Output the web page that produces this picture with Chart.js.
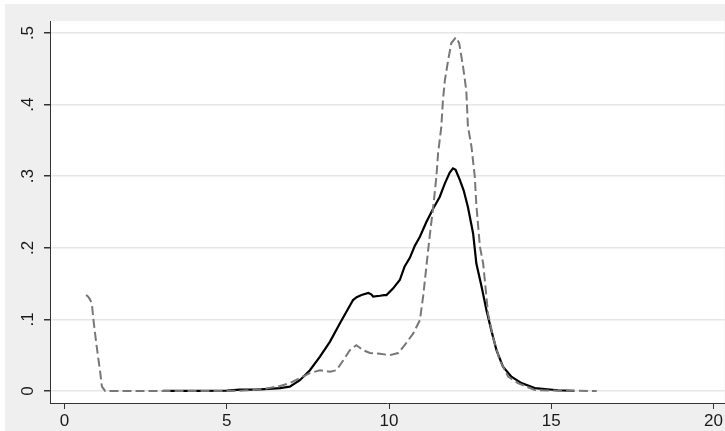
<!DOCTYPE html>
<html>
<head>
<meta charset="utf-8">
<script src="https://cdn.jsdelivr.net/npm/chart.js@4.4.1/dist/chart.umd.min.js"></script>
<style>
  html, body { margin: 0; padding: 0; background: #ffffff; }
  #wrap { width: 725px; height: 431px; }
</style>
</head>
<body>
<div id="wrap"><canvas id="densityChart" width="725" height="431"></canvas></div>
<script>
// tick values and labels
const xTicks = [0, 5, 10, 15, 20];
const yTicks = [0, 0.1, 0.2, 0.3, 0.4, 0.5];
const yLabels = ["0", ".1", ".2", ".3", ".4", ".5"];

// solid black density
const xBlack = [3.03, 4, 5, 5.4, 5.9, 6.3, 6.64, 6.94, 7.25, 7.56, 7.87, 8.18, 8.49, 8.69, 8.89, 9.0, 9.15, 9.36, 9.45, 9.51, 9.72, 9.85, 9.92, 10.12, 10.33, 10.48, 10.64, 10.79, 10.95, 11.15, 11.36, 11.56, 11.72, 11.87, 11.97, 12.05, 12.18, 12.3, 12.43, 12.59, 12.69, 12.85, 13.0, 13.15, 13.31, 13.51, 13.77, 14.08, 14.49, 15.2, 15.7];
const yBlack = [0, 0, 0.0005, 0.002, 0.002, 0.003, 0.004, 0.006, 0.015, 0.029, 0.048, 0.069, 0.095, 0.111, 0.127, 0.131, 0.134, 0.137, 0.135, 0.132, 0.133, 0.134, 0.134, 0.143, 0.155, 0.174, 0.186, 0.2025, 0.2155, 0.236, 0.255, 0.271, 0.29, 0.305, 0.311, 0.309, 0.295, 0.28, 0.257, 0.22, 0.178, 0.146, 0.113, 0.085, 0.057, 0.034, 0.020, 0.011, 0.004, 0.001, 0];

// dashed grey density
const xGrey = [0.66, 0.72, 0.78, 0.84, 0.89, 0.94, 0.99, 1.04, 1.09, 1.15, 1.25, 3, 5, 5.5, 6, 6.3, 6.64, 6.94, 7.25, 7.56, 7.87, 8.18, 8.38, 8.59, 8.79, 8.99, 9.2, 9.41, 9.72, 10.02, 10.28, 10.48, 10.74, 10.95, 11.05, 11.15, 11.25, 11.36, 11.46, 11.51, 11.61, 11.66, 11.72, 11.82, 11.92, 12.06, 12.16, 12.28, 12.38, 12.43, 12.54, 12.64, 12.69, 12.8, 12.9, 12.95, 13.05, 13.2, 13.41, 13.67, 13.97, 14.49, 15.2, 16.4];
const yGrey = [0.134, 0.132, 0.128, 0.122, 0.099, 0.08, 0.062, 0.045, 0.029, 0.006, 0, 0, 0, 0.0005, 0.002, 0.004, 0.007, 0.011, 0.018, 0.025, 0.029, 0.027, 0.029, 0.043, 0.057, 0.064, 0.057, 0.053, 0.052, 0.05, 0.053, 0.064, 0.08, 0.099, 0.132, 0.174, 0.2155, 0.257, 0.30, 0.332, 0.369, 0.406, 0.434, 0.462, 0.486, 0.494, 0.486, 0.453, 0.42, 0.37, 0.341, 0.30, 0.26, 0.2015, 0.178, 0.155, 0.108, 0.076, 0.043, 0.020, 0.011, 0.0014, 0.0003, 0];

function toPoints(xs, ys) {
    return xs.map((x, i) => ({ x: x, y: ys[i] }));
}

// grey outer frame + white plot region
const backdrop = {
    id: "backdrop",
    beforeDraw(chart) {
        const ctx = chart.ctx;
        const a = chart.chartArea;
        ctx.save();
        ctx.fillStyle = "#ffffff";
        ctx.fillRect(0, 0, chart.width, chart.height);
        ctx.fillStyle = "#efefef";
        ctx.fillRect(5, 4, chart.width - 5, chart.height - 4);
        ctx.fillStyle = "#ffffff";
        ctx.fillRect(a.left, a.top, a.right - a.left, a.bottom - a.top);
        ctx.restore();
    }
};

const tickFont = { family: "'Liberation Sans', Arial, sans-serif", size: 17 };

new Chart(document.getElementById("densityChart").getContext("2d"), {
    type: "line",
    data: {
        datasets: [
            {
                data: toPoints(xGrey, yGrey),
                borderColor: "#777777",
                borderWidth: 2,
                borderDash: [9, 4],
                pointRadius: 0,
                tension: 0,
                fill: false
            },
            {
                data: toPoints(xBlack, yBlack),
                borderColor: "#000000",
                borderWidth: 2.2,
                pointRadius: 0,
                tension: 0,
                fill: false
            }
        ]
    },
    options: {
        responsive: false,
        animation: false,
        devicePixelRatio: 1,
        layout: { padding: { left: 5, top: 21, right: 0, bottom: 0 } },
        plugins: {
            legend: { display: false },
            tooltip: { enabled: false }
        },
        scales: {
            x: {
                type: "linear",
                min: -0.45,
                max: 20.34,
                afterBuildTicks: (s) => { s.ticks = xTicks.map(v => ({ value: v })); },
                afterFit: (s) => { s.height = 28; },
                grid: { drawOnChartArea: false, tickLength: 6, tickColor: "#333333", color: "#333333" },
                border: { color: "#333333", width: 1 },
                ticks: { font: tickFont, color: "#1a1a1a", padding: 2, maxRotation: 0, autoSkip: false }
            },
            y: {
                min: -0.0168,
                max: 0.5168,
                afterBuildTicks: (s) => { s.ticks = yTicks.map(v => ({ value: v })); },
                afterFit: (s) => { s.width = 45; },
                grid: { color: "#e6e6e6", lineWidth: 1.5, tickLength: 6, tickColor: "#333333" },
                border: { color: "#333333", width: 1 },
                ticks: {
                    font: tickFont,
                    color: "#1a1a1a",
                    minRotation: 90,
                    maxRotation: 90,
                    crossAlign: "center",
                    padding: 9,
                    autoSkip: false,
                    callback: (v, i) => yLabels[i]
                }
            }
        }
    },
    plugins: [backdrop]
});
</script>
</body>
</html>
